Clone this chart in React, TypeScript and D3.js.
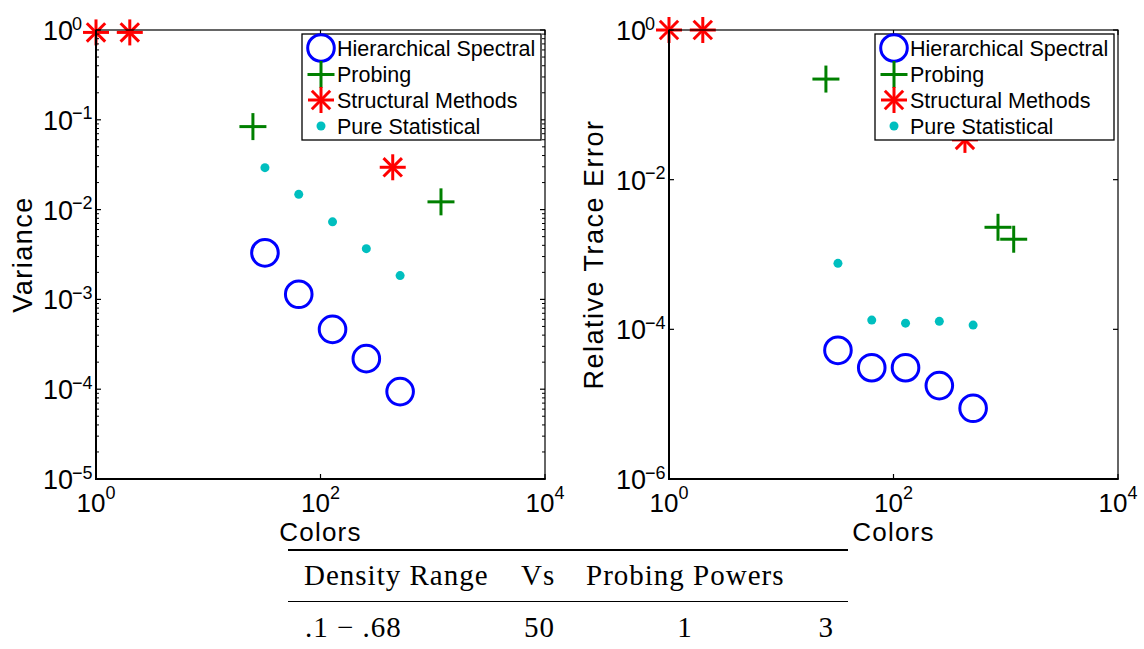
import React from "react";
import * as d3 from "d3";

// x positions (number of colors) shared by the spectral / statistical series
const colorCounts = [32, 64, 128, 256, 512];

// left panel: Variance
const varSpectral = [3.3e-3, 1.14e-3, 4.64e-4, 2.19e-4, 9.4e-5];
const varStatistical = [2.93e-2, 1.48e-2, 7.3e-3, 3.67e-3, 1.84e-3];
const varProbingX = [25, 1184];
const varProbing = [0.084, 0.0122];
const varStructuralX = [1, 2, 440];
const varStructural = [0.94, 0.94, 0.0296];

// right panel: Relative Trace Error
const errSpectral = [5.24e-5, 3.07e-5, 3.07e-5, 1.77e-5, 8.8e-6];
const errStatistical = [7.62e-4, 1.33e-4, 1.21e-4, 1.28e-4, 1.14e-4];
const errProbingX = [25, 853, 1177];
const errProbing = [0.221, 0.00231, 0.0016];
const errStructuralX = [1, 2, 433];
const errStructural = [1, 1, 0.034];

const xTicks = [1, 100, 10000];
const varTicks = [1e-5, 1e-4, 1e-3, 1e-2, 1e-1, 1];
const errTicks = [1e-6, 1e-4, 1e-2, 1];

const legendLabels = ["Hierarchical Spectral", "Probing", "Structural Methods", "Pure Statistical"];

const tableHeader = ["Density Range", "Vs", "Probing Powers"];
const tableRow = [".1 \u2212 .68", "50", "1", "3"];

const BLUE = "#0000ff";
const GREEN = "#008000";
const RED = "#ff0000";
const CYAN = "#00bfbf";
const SANS = "'Liberation Sans', Arial, Helvetica, sans-serif";
const SERIF = "'Liberation Serif', 'Times New Roman', serif";

const TOP = 30;
const SIZE = 449;

const expText = (v: number) => {
  const e = Math.round(Math.log10(v));
  return e < 0 ? "\u2212" + Math.abs(e) : String(e);
};

const Circle = ({ x, y }: { x: number; y: number }) => (
  <circle cx={x} cy={y} r={13.3} fill="none" stroke={BLUE} strokeWidth={3} />
);
const Plus = ({ x, y }: { x: number; y: number }) => (
  <g stroke={GREEN} strokeWidth={3}>
    <line x1={x - 13.5} x2={x + 13.5} y1={y} y2={y} />
    <line x1={x} x2={x} y1={y - 13.5} y2={y + 13.5} />
  </g>
);
const Star = ({ x, y }: { x: number; y: number }) => {
  const d = 9.2;
  return (
    <g stroke={RED} strokeWidth={3}>
      <line x1={x - 13} x2={x + 13} y1={y} y2={y} />
      <line x1={x} x2={x} y1={y - 13} y2={y + 13} />
      <line x1={x - d} x2={x + d} y1={y - d} y2={y + d} />
      <line x1={x - d} x2={x + d} y1={y + d} y2={y - d} />
    </g>
  );
};
const Dot = ({ x, y }: { x: number; y: number }) => <circle cx={x} cy={y} r={4.5} fill={CYAN} />;

type PanelProps = {
  x0: number;
  yMin: number;
  yTicks: number[];
  minor: boolean;
  ylabel: string;
  ylabelX: number;
  spectral: number[];
  statistical: number[];
  probingX: number[];
  probing: number[];
  structuralX: number[];
  structural: number[];
};

const Panel = (p: PanelProps) => {
  const x = d3.scaleLog().domain([1, 1e4]).range([p.x0, p.x0 + SIZE]);
  const y = d3.scaleLog().domain([p.yMin, 1]).range([TOP + SIZE, TOP]);
  const x1 = p.x0 + SIZE;
  const bottom = TOP + SIZE;

  const minorTicks: number[] = [];
  if (p.minor) {
    for (let e = Math.round(Math.log10(p.yMin)); e < 0; e++) {
      for (let m = 2; m <= 9; m++) minorTicks.push(m * Math.pow(10, e));
    }
  }

  return (
    <g>
      {/* data */}
      {colorCounts.map((c, i) => (
        <Dot key={"d" + i} x={x(c)} y={y(p.statistical[i])} />
      ))}
      {colorCounts.map((c, i) => (
        <Circle key={"c" + i} x={x(c)} y={y(p.spectral[i])} />
      ))}
      {p.probingX.map((c, i) => (
        <Plus key={"p" + i} x={x(c)} y={y(p.probing[i])} />
      ))}
      {p.structuralX.map((c, i) => (
        <Star key={"s" + i} x={x(c)} y={y(p.structural[i])} />
      ))}

      {/* box */}
      <rect x={p.x0} y={TOP} width={SIZE} height={SIZE} fill="none" stroke="#000" strokeWidth={1.2} />
      <line x1={p.x0} x2={p.x0} y1={TOP} y2={bottom + 1} stroke="#000" strokeWidth={2} />
      <line x1={p.x0 - 1} x2={x1 + 0.6} y1={bottom} y2={bottom} stroke="#000" strokeWidth={2} />

      {/* y ticks */}
      {p.yTicks.map((t) => (
        <g key={"yt" + t}>
          <line x1={p.x0} x2={p.x0 + 5} y1={y(t)} y2={y(t)} stroke="#000" strokeWidth={1.2} />
          <line x1={x1} x2={x1 - 5} y1={y(t)} y2={y(t)} stroke="#000" strokeWidth={1.2} />
          <text x={p.x0 - 23} y={y(t) + 10} textAnchor="end" fontSize={27} fontFamily={SANS}>
            10
          </text>
          <text x={p.x0 - 24} y={y(t) - 0.5} textAnchor="start" fontSize={18} fontFamily={SANS}>
            {expText(t)}
          </text>
        </g>
      ))}
      {minorTicks.map((t) => (
        <g key={"ym" + t} stroke="#000" strokeWidth={1}>
          <line x1={p.x0} x2={p.x0 + 3} y1={y(t)} y2={y(t)} />
          <line x1={x1} x2={x1 - 3} y1={y(t)} y2={y(t)} />
        </g>
      ))}

      {/* x ticks */}
      {xTicks.map((t) => (
        <g key={"xt" + t}>
          <line x1={x(t)} x2={x(t)} y1={bottom} y2={bottom - 5} stroke="#000" strokeWidth={1.2} />
          <line x1={x(t)} x2={x(t)} y1={TOP} y2={TOP + 5} stroke="#000" strokeWidth={1.2} />
          <text x={x(t)} y={512} textAnchor="middle" fontFamily={SANS}>
            <tspan fontSize={26}>10</tspan>
            <tspan fontSize={18} dy={-13}>
              {expText(t)}
            </tspan>
          </text>
        </g>
      ))}

      {/* axis labels */}
      <text x={p.x0 + SIZE / 2} y={541} textAnchor="middle" fontSize={26} fontFamily={SANS} letterSpacing={1.2}>
        Colors
      </text>
      <text
        transform={`translate(${p.ylabelX},${TOP + SIZE / 2}) rotate(-90)`}
        textAnchor="middle"
        fontSize={27}
        fontFamily={SANS}
        letterSpacing={1.5}
      >
        {p.ylabel}
      </text>

      {/* legend */}
      <g>
        <rect x={x1 - 243} y={34} width={239} height={106} fill="#fff" stroke="#000" strokeWidth={1.3} />
        {legendLabels.map((l, i) => (
          <text key={l} x={x1 - 208} y={56 + i * 26} fontSize={21.5} fontFamily={SANS}>
            {l}
          </text>
        ))}
        <Circle x={x1 - 224} y={48} />
        <Plus x={x1 - 224} y={74.5} />
        <Star x={x1 - 224} y={100} />
        <Dot x={x1 - 224} y={126} />
      </g>
    </g>
  );
};

export default function App() {
  return (
    <svg
      width={1144}
      height={649}
      style={{ position: "absolute", left: 0, top: 0, background: "#fff" }}
    >
      <rect width={1144} height={649} fill="#fff" />
      <Panel
        x0={96}
        yMin={1e-5}
        yTicks={varTicks}
        minor={true}
        ylabel="Variance"
        ylabelX={32}
        spectral={varSpectral}
        statistical={varStatistical}
        probingX={varProbingX}
        probing={varProbing}
        structuralX={varStructuralX}
        structural={varStructural}
      />
      <Panel
        x0={669}
        yMin={1e-6}
        yTicks={errTicks}
        minor={false}
        ylabel="Relative Trace Error"
        ylabelX={603}
        spectral={errSpectral}
        statistical={errStatistical}
        probingX={errProbingX}
        probing={errProbing}
        structuralX={errStructuralX}
        structural={errStructural}
      />

      {/* table under the plots */}
      <line x1={288} x2={848} y1={550} y2={550} stroke="#000" strokeWidth={1.8} />
      <line x1={288} x2={848} y1={601.5} y2={601.5} stroke="#000" strokeWidth={1.2} />
      <g fontFamily={SERIF} fontSize={29} letterSpacing={1}>
        <text x={304} y={585}>{tableHeader[0]}</text>
        <text x={521} y={585}>{tableHeader[1]}</text>
        <text x={586} y={585}>{tableHeader[2]}</text>
        <text x={305} y={637}>{tableRow[0]}</text>
        <text x={524} y={637}>{tableRow[1]}</text>
        <text x={685} y={637} textAnchor="middle">{tableRow[2]}</text>
        <text x={834} y={637} textAnchor="end">{tableRow[3]}</text>
      </g>
    </svg>
  );
}
